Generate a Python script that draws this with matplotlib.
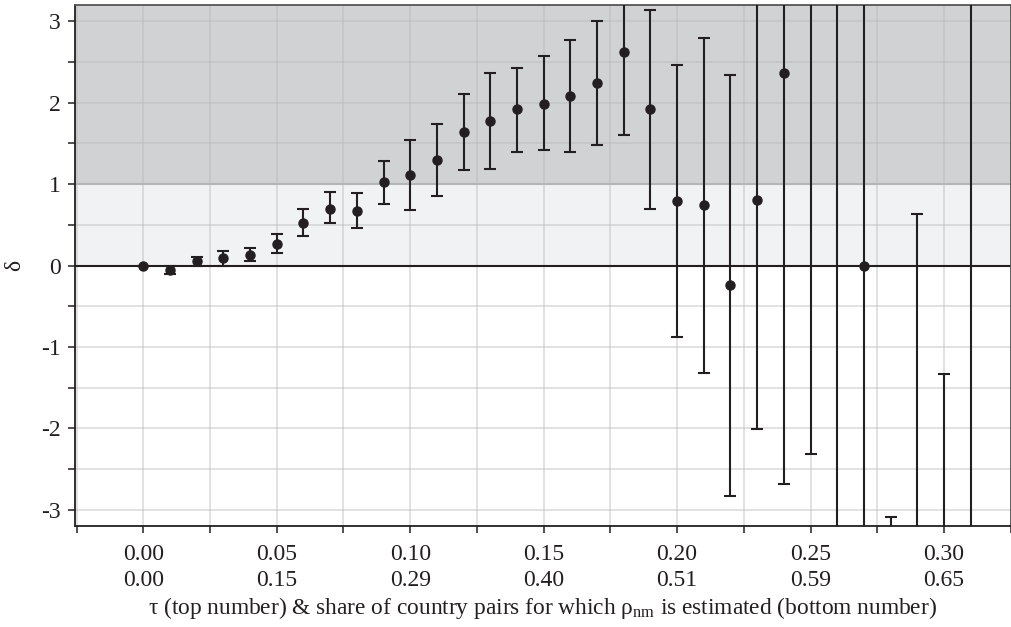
import numpy as np
import matplotlib
matplotlib.use('Agg')
import matplotlib.pyplot as plt

plt.rcParams['font.family'] = ['Liberation Serif', 'DejaVu Serif']
plt.rcParams['mathtext.fontset'] = 'custom'
plt.rcParams['mathtext.rm'] = 'Liberation Serif'
plt.rcParams['mathtext.it'] = 'Liberation Serif:italic'

# tau values (0.00 .. 0.31) and estimated delta with CI bounds
tau = [i / 100 for i in range(32)]
delta = [0.00, -0.05, 0.05, 0.09, 0.13, 0.27, 0.52, 0.70, 0.67, 1.02,
         1.11, 1.30, 1.64, 1.77, 1.92, 1.99, 2.08, 2.24, 2.62, 1.92,
         0.79, 0.74, -0.24, 0.80, 2.36, 3.40, 3.80, -0.01, -3.50, -3.60,
         -3.50, -4.20]
lower = [0.00, -0.10, -0.01, 0.00, 0.05, 0.16, 0.36, 0.52, 0.46, 0.76,
         0.68, 0.86, 1.17, 1.19, 1.40, 1.42, 1.39, 1.48, 1.60, 0.69,
         -0.88, -1.32, -2.83, -2.01, -2.68, -2.31, -4.00, -4.50, -3.90, -7.80,
         -5.67, -12.0]
upper = [0.00, -0.01, 0.10, 0.18, 0.22, 0.39, 0.69, 0.90, 0.89, 1.29,
         1.54, 1.74, 2.11, 2.36, 2.43, 2.57, 2.77, 3.00, 3.64, 3.14,
         2.46, 2.79, 2.34, 3.61, 7.40, 9.11, 11.6, 4.48, -3.09, 0.63,
         -1.33, 3.60]

tick_tau = ['0.00', '0.05', '0.10', '0.15', '0.20', '0.25', '0.30']
tick_share = ['0.00', '0.15', '0.29', '0.40', '0.51', '0.59', '0.65']

dark = '#231f20'

fig = plt.figure(figsize=(10.12, 6.27), dpi=100)
ax = fig.add_axes([0.0741, 0.161, 0.9246, 0.831])

ax.axhspan(1, 10, color='#d1d2d4', zorder=0, lw=0)
ax.axhspan(0, 1, color='#f1f2f4', zorder=0, lw=0)
ax.set_axisbelow(True)
ax.grid(True, color=(0.72, 0.72, 0.72), alpha=0.45, lw=1.3)
ax.axhline(1, color='#b4b5b7', lw=1.5, zorder=1)
ax.axhline(0, color=dark, lw=1.5, zorder=2)

d = np.array(delta)
yerr = [d - np.array(lower), np.array(upper) - d]
ax.errorbar(tau, delta, yerr=yerr, fmt='o', color=dark, ms=6.5, elinewidth=1.5,
            capsize=4.5, capthick=1.5, zorder=3)

ax.set_xlim(-0.0256, 0.325)
ax.set_ylim(-3.2, 3.2)

yt = np.arange(-3, 3.01, 0.5)
ax.set_yticks(yt)
ax.set_yticklabels(['%d' % v if v == int(v) else '' for v in yt])

xt = np.arange(-0.025, 0.326, 0.025)
ax.set_xticks(xt)
xl = []
for v in xt:
    k = int(round(v / 0.05 * 2))
    if k >= 0 and k % 2 == 0:
        xl.append(tick_tau[k // 2] + '\n' + tick_share[k // 2])
    else:
        xl.append('')
ax.set_xticklabels(xl, linespacing=1.3)

ax.tick_params(direction='out', length=5, width=1.1, labelsize=17, colors=dark)
ax.tick_params(axis='x', pad=8)
ax.tick_params(axis='y', pad=5)
for s in ['left', 'bottom']:
    ax.spines[s].set_color(dark)
    ax.spines[s].set_linewidth(1.3)
for s in ['top', 'right']:
    ax.spines[s].set_color('#555555')
    ax.spines[s].set_linewidth(1.3)

ax.set_ylabel('δ', fontsize=17, labelpad=12, color=dark)
ax.set_xlabel('τ (top number) & share of country pairs for which ρ$_{\\mathrm{nm}}$ is estimated (bottom number)',
              fontsize=16.8, color=dark, labelpad=3)

fig.savefig('out.png', dpi=100)
